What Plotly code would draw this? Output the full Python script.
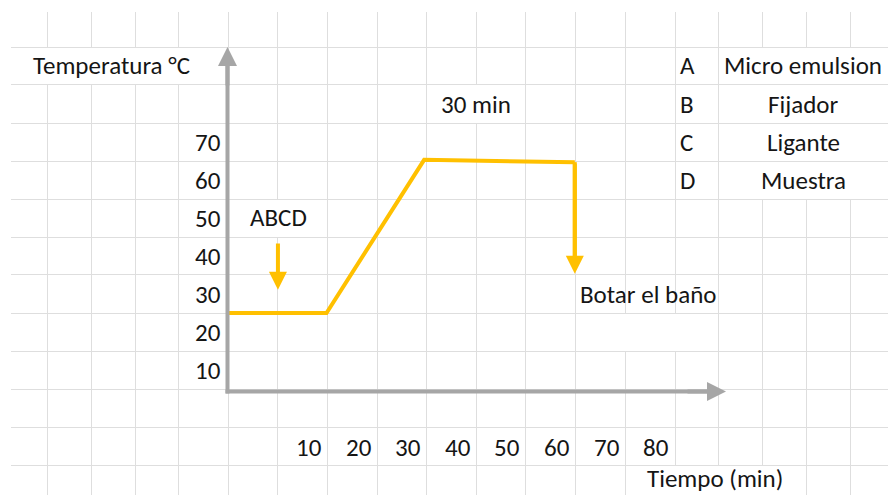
import plotly.graph_objects as go

W, H = 888, 495

# ---------------- data ----------------
time_min = [-6.4, 13.5, 33.2, 63.6]        # temperature profile, minutes
temp_c = [25.0, 25.0, 65.3, 64.7]          # temperature profile, °C
drain_time = 63.6                           # "Botar el baño" arrow
drain_temp = [64.7, 35.3]
add_time = 3.7                              # "ABCD" arrow
add_temp = [43.7, 31.1]
x_ticks = [10, 20, 30, 40, 50, 60, 70, 80]
y_ticks = [10, 20, 30, 40, 50, 60, 70]
legend_keys = ["A", "B", "C", "D"]
legend_names = ["Micro emulsion", "Fijador", "Ligante", "Muestra"]

# ---------------- spreadsheet look (pixels) ----------------
col_lines = [47, 91, 135, 178, 228, 277, 327, 377, 426, 476, 525, 575, 625,
             675, 718, 762, 806, 850]
row_lines = [47, 84, 123, 161, 199, 237, 274, 313, 351, 389, 427, 465]
hidden = {47: [0], 91: [0], 135: [0], 178: [0], 277: [4], 476: [1],
          625: [7], 675: [7, 11], 718: [11], 762: [0, 1, 2, 3, 11],
          806: [0, 1, 2, 3], 850: [0, 1, 2, 3]}

GRID = "#dedede"
ORANGE = "#FFC000"
GRAY = "#a6a6a6"
TXT = "#151515"
FONT = dict(family="Carlito, Calibri, Lato, sans-serif", size=25, color=TXT)


def fx(x):
    return x / W


def fy(y):
    return 1 - y / H


shapes = []
# horizontal grid lines
for r in row_lines:
    shapes.append(dict(type="line", xref="paper", yref="paper",
                       x0=fx(11), x1=1, y0=fy(r + 0.5), y1=fy(r + 0.5),
                       line=dict(color=GRID, width=1), layer="below"))
# vertical grid lines (broken where cell text overflows)
row_bounds = row_lines + [H]
for c in col_lines:
    hid = hidden.get(c, [])
    y_start = 12
    segs = []
    for i in range(len(row_lines)):
        if i in hid:
            segs.append((y_start, row_bounds[i]))
            y_start = row_bounds[i + 1]
    segs.append((y_start, H))
    for a, b in segs:
        if b > a:
            shapes.append(dict(type="line", xref="paper", yref="paper",
                               x0=fx(c + 0.5), x1=fx(c + 0.5), y0=fy(a), y1=fy(b),
                               line=dict(color=GRID, width=1), layer="below"))

# gray axis arrows (lines)
shapes.append(dict(type="line", xref="paper", yref="paper",
                   x0=fx(227.5), x1=fx(227.5), y0=fy(393.5), y1=fy(60),
                   line=dict(color=GRAY, width=4), layer="above"))
shapes.append(dict(type="line", xref="paper", yref="paper",
                   x0=fx(225.5), x1=fx(712), y0=fy(391.5), y1=fy(391.5),
                   line=dict(color=GRAY, width=4), layer="above"))

fig = go.Figure()
fig.add_trace(go.Scatter(x=time_min, y=temp_c, mode="lines",
                         line=dict(color=ORANGE, width=4),
                         hoverinfo="skip", showlegend=False))
fig.add_trace(go.Scatter(x=[drain_time, drain_time], y=[drain_temp[0], drain_temp[1] + 3],
                         mode="lines", line=dict(color=ORANGE, width=4),
                         hoverinfo="skip", showlegend=False))

ann = []
# arrowheads
ann.append(dict(xref="x", yref="y", axref="x", ayref="y",
                x=drain_time, y=drain_temp[1], ax=drain_time, ay=drain_temp[0],
                text="", showarrow=True, arrowhead=2, arrowsize=0.9,
                arrowwidth=4, arrowcolor=ORANGE, standoff=0, startstandoff=0))
ann.append(dict(xref="x", yref="y", axref="x", ayref="y",
                x=add_time, y=add_temp[1], ax=add_time, ay=add_temp[0],
                text="", showarrow=True, arrowhead=2, arrowsize=0.9,
                arrowwidth=4, arrowcolor=ORANGE, standoff=0, startstandoff=0))
ann.append(dict(xref="paper", yref="paper", x=fx(227.5), y=fy(47),
                ax=0, ay=40, text="", showarrow=True, arrowhead=2, arrowsize=0.95,
                arrowwidth=4, arrowcolor=GRAY, standoff=0))
ann.append(dict(xref="paper", yref="paper", x=fx(726), y=fy(391.5),
                ax=-40, ay=0, text="", showarrow=True, arrowhead=2, arrowsize=0.95,
                arrowwidth=4, arrowcolor=GRAY, standoff=0))

# axis tick labels
for v in y_ticks:
    ann.append(dict(xref="paper", yref="y", x=fx(223), y=v, text=str(v),
                    xanchor="right", yanchor="middle", showarrow=False, font=FONT))
for t in x_ticks:
    ann.append(dict(xref="x", yref="paper", x=t, y=fy(447), text=str(t),
                    xanchor="center", yanchor="middle", showarrow=False, font=FONT))


# texts
def text(s, x, y, anchor="left"):
    ann.append(dict(xref="paper", yref="paper", x=fx(x), y=fy(y), text=s,
                    xanchor=anchor, yanchor="middle", showarrow=False, font=FONT))


text("Temperatura °C", 31, 66)
text("ABCD", 278, 218, "center")
text("30 min", 475.5, 104, "center")
text("Botar el baño", 578, 294)
text("Tiempo (min)", 645, 478)

row_centers = [66, 104, 142, 180]
for k, n, yc in zip(legend_keys, legend_names, row_centers):
    text(k, 678, yc)
    text(n, 803, yc, "center")

fig.update_layout(
    width=W, height=H, margin=dict(l=0, r=0, t=0, b=0),
    paper_bgcolor="white", plot_bgcolor="white",
    xaxis=dict(range=[-52.38, 126.80], visible=False, fixedrange=True),
    yaxis=dict(range=[-22.89, 107.37], visible=False, fixedrange=True),
    shapes=shapes, annotations=ann, showlegend=False,
)

fig.write_html(
    "out.html",
    config={"displayModeBar": False},
    post_script="document.body.style.margin='0';document.body.style.overflow='hidden';",
)
